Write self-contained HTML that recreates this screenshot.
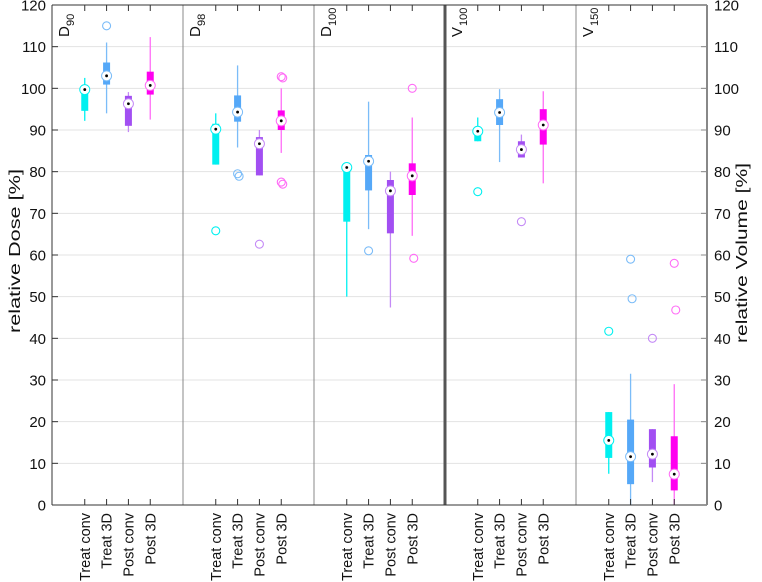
<!DOCTYPE html>
<html><head><meta charset="utf-8"><style>
html,body{margin:0;padding:0;background:#fff;}
svg{display:block;font-family:"Liberation Sans",sans-serif;}
</style></head><body>
<svg id="chart" width="762" height="582" viewBox="0 0 762 582" xmlns="http://www.w3.org/2000/svg">
<g id="grid"></g>
<g id="dividers"></g>
<g id="marks"></g>
<g id="axes"></g>
<g transform="translate(20,251) rotate(-90)"><text x="0" y="0" text-anchor="middle" font-size="16" textLength="164" lengthAdjust="spacingAndGlyphs" fill="#111">relative Dose [%]</text></g>
<g transform="translate(747,253) rotate(-90)"><text x="0" y="0" text-anchor="middle" font-size="16" textLength="180" lengthAdjust="spacingAndGlyphs" fill="#111">relative Volume [%]</text></g>
</svg>
<script>
const groups = ["D","D","D","V","V"];
const groupSubs = ["90","98","100","100","150"];
const categories = ["Treat conv","Treat 3D","Post conv","Post 3D"];
const colors = ["#00f0f0","#55a8f8","#a24ff2","#ff00f0"];
const lightColors = ["#00f0f0","#7bbcf8","#c48af6","#ff6cf6"];
const yTicks = [0,10,20,30,40,50,60,70,80,90,100,110,120];
const medians = [[99.7,103,96.3,100.7],[90.2,94.3,86.7,92.2],[81,82.5,75.4,79],[89.7,94.2,85.3,91.2],[15.5,11.6,12.2,7.4]];
const q1s = [[94.6,100.9,91,98.5],[81.7,92,79.1,90],[68,75.5,65.2,74.4],[87.3,91.2,83.4,86.5],[11.3,5,9,3.5]];
const q3s = [[100.2,106.2,98.2,104],[91.5,98.3,88.3,94.7],[81,84,78,82],[90,97.4,87.3,95],[22.3,20.5,18.2,16.5]];
const whiskLo = [[92.2,94,89.5,92.5],[81.7,85.8,79.1,84.5],[50,66.2,47.4,64.6],[87.3,82.3,83.4,77.2],[7.5,0,5.5,0]];
const whiskHi = [[102.5,111,99.1,112.3],[94,105.5,90,100],[81,96.8,80,93],[93,99.8,88.9,99.3],[22.3,31.5,18.2,29]];
const outliers = [[[],[115],[],[]],[[65.8],[79.5,78.9],[62.6],[102.8,102.5,77.5,77]],[[],[61],[],[100,59.2]],[[75.2],[],[68],[]],[[41.7],[59,49.5],[40],[58,46.8]]];

const X0=52, X1=707, Y0=505, Y1=5;
const xs = p => X0 + p*(X1-X0)/30;
const ys = v => Y0 - v*(Y0-Y1)/120;
const NS="http://www.w3.org/2000/svg";
function mk(tag, attrs, parent){const e=document.createElementNS(NS,tag);for(const k in attrs)e.setAttribute(k,attrs[k]);parent.appendChild(e);return e;}
const grid=document.getElementById('grid'), axes=document.getElementById('axes'), marks=document.getElementById('marks'), div=document.getElementById('dividers');

yTicks.forEach(t=>{
  if(t>0&&t<120){const l=mk('line',{x1:X0,x2:X1,y1:ys(t),y2:ys(t),stroke:'#e3e3e3','stroke-width':1},grid);
  
  }
  const a=mk('line',{x1:X0,x2:X0+6,y1:ys(t),y2:ys(t),stroke:'#333'},axes);
  
  
  const b=mk('line',{x1:X1-6,x2:X1,y1:ys(t),y2:ys(t),stroke:'#888'},axes);
  
  
  const tl=mk('text',{x:X0-6,y:ys(t)+5.5,'text-anchor':'end','font-size':15,fill:'#111'},axes);
  tl.textContent=t;
  
  
  const tr=mk('text',{x:X1+7,y:ys(t)+5.5,'text-anchor':'start','font-size':15,fill:'#111'},axes);
  tr.textContent=t;
  
  
});

for(let g=1; g<5; g++){
  const thick = g===3;
  const l=mk('line',{x1:xs(g*6),x2:xs(g*6),y1:Y1,y2:Y0,stroke:thick?'#555':'#888','stroke-width':thick?3:1},div);
  
  
}

const fr=[[X0,Y1,X1,Y1,'#333',1],[X0,Y0,X1,Y0,'#333',1],[X0,Y1,X0,Y0,'#333',1],[X1,Y1,X1,Y0,'#888',2]];
fr.forEach(f=>{const l=mk('line',{x1:f[0],y1:f[1],x2:f[2],y2:f[3],stroke:f[4],'stroke-width':f[5]},axes);

});

groups.forEach((gname,g)=>{
  const gx=xs(g*6)+17;
  const wrap=mk('g',{transform:'translate('+gx+','+(Y1+32)+') rotate(-90)'},axes);
  const lab=mk('text',{x:0,y:0,'font-size':15,fill:'#111'},wrap);
  
  
  lab.textContent=gname;
  const sub=mk('text',{x:11,y:5,'font-size':11,fill:'#111'},wrap);
  sub.textContent=groupSubs[g];
  
  
  categories.forEach((c,ci)=>{
    const p=g*6+ci+1.5, x=xs(p);
    const gg=mk('g',{},marks);
    
    
    mk('line',{x1:x,x2:x,y1:ys(whiskLo[g][ci]),y2:ys(whiskHi[g][ci]),stroke:lightColors[ci],'stroke-width':1.3},gg);
    mk('rect',{x:x-3.5,width:7,y:ys(q3s[g][ci]),height:ys(q1s[g][ci])-ys(q3s[g][ci]),fill:colors[ci]},gg);
    outliers[g][ci].forEach((o,oi)=>{
      const oc=mk('circle',{cx:x+(oi%2)*1.5,cy:ys(o),r:4,fill:'none',stroke:lightColors[ci],'stroke-width':1.1},gg);
      
      
    });
    const m=mk('circle',{cx:x,cy:ys(medians[g][ci]),r:5,fill:'#fff',stroke:lightColors[ci],'stroke-width':1},gg);
    
    
    mk('circle',{cx:x,cy:ys(medians[g][ci]),r:1.4,fill:'#000'},gg);
    mk('line',{x1:x,x2:x,y1:Y0,y2:Y0-6,stroke:'#333'},axes);
    mk('line',{x1:x,x2:x,y1:Y1,y2:Y1+6,stroke:'#333'},axes);
    const tw=mk('g',{transform:'translate('+(x+5)+','+(Y0+8)+') rotate(-90)'},axes);
    const tl=mk('text',{x:0,y:0,'text-anchor':'end','font-size':14.5,fill:'#111'},tw);
    tl.textContent=c;
    
    
  });
});
</script>
</body></html>
